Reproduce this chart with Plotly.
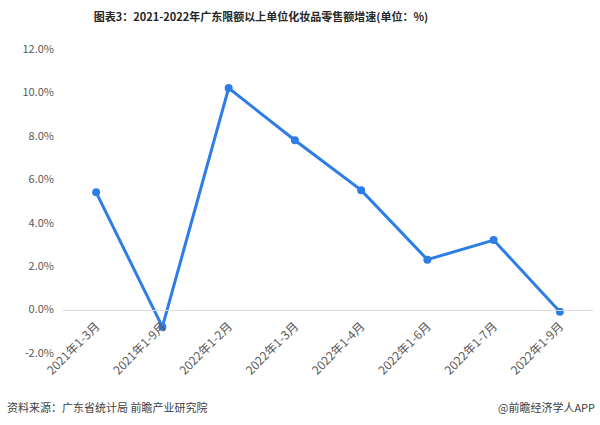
import plotly.graph_objects as go

categories = ["2021年1-3月", "2021年1-9月", "2022年1-2月", "2022年1-3月",
              "2022年1-4月", "2022年1-6月", "2022年1-7月", "2022年1-9月"]
growth = [5.4, -0.8, 10.2, 7.8, 5.5, 2.3, 3.2, -0.1]
y_ticks = [-2, 0, 2, 4, 6, 8, 10, 12]
y_tick_labels = ["-2.0%", "0.0%", "2.0%", "4.0%", "6.0%", "8.0%", "10.0%", "12.0%"]

FONT = "Noto Sans CJK SC"
ymin, ymax = -2, 12
L, R, T, B = 63, 7, 49, 72
PW, PH = 600 - L - R, 425 - T - B

fig = go.Figure()
fig.add_trace(go.Scatter(
    x=categories, y=growth, mode="lines+markers",
    line=dict(color="#2E7DE6", width=3),
    marker=dict(color="#2E7DE6", size=8),
    cliponaxis=False, hoverinfo="x+y",
))

fig.update_layout(
    width=600, height=425,
    margin=dict(l=L, r=R, t=T, b=B, autoexpand=False),
    paper_bgcolor="white", plot_bgcolor="white",
    showlegend=False,
    font=dict(family=FONT, color="#595959", size=12),
    title=dict(
        text="<b>图表3：2021-2022年广东限额以上单位化妆品零售额增速(单位：%)</b>",
        x=261 / 600, xanchor="center", y=1 - 17 / 425, yanchor="middle",
        font=dict(family=FONT, size=11, color="#262626"),
    ),
    xaxis=dict(
        type="category", range=[-0.5, len(categories) - 0.5],
        anchor="free", position=(0 - ymin) / (ymax - ymin),
        showline=True, linecolor="#D9D9D9", linewidth=1,
        showgrid=False, ticks="", tickangle=-45, automargin=False,
        ticklabelstandoff=4,
        tickfont=dict(family=FONT, size=12, color="#595959"),
    ),
    yaxis=dict(
        range=[ymin, ymax], tickvals=y_ticks, ticktext=y_tick_labels,
        showgrid=False, zeroline=False, showline=False, ticks="",
        automargin=False, ticklabelstandoff=8,
        tickfont=dict(family=FONT, size=11, color="#595959"),
    ),
    annotations=[
        dict(text="资料来源：广东省统计局 前瞻产业研究院", xref="paper", yref="paper",
             x=(5 - L) / PW, y=-(407 - (T + PH)) / PH,
             xanchor="left", yanchor="middle", showarrow=False,
             font=dict(family=FONT, size=11, color="#404040")),
        dict(text="@前瞻经济学人APP", xref="paper", yref="paper",
             x=(597 - L) / PW, y=-(407 - (T + PH)) / PH,
             xanchor="right", yanchor="middle", showarrow=False,
             font=dict(family=FONT, size=11, color="#404040")),
    ],
)

fig.write_html("out.html", config={"displayModeBar": False},
               post_script="document.body.style.margin='0';document.body.style.overflow='hidden';")
